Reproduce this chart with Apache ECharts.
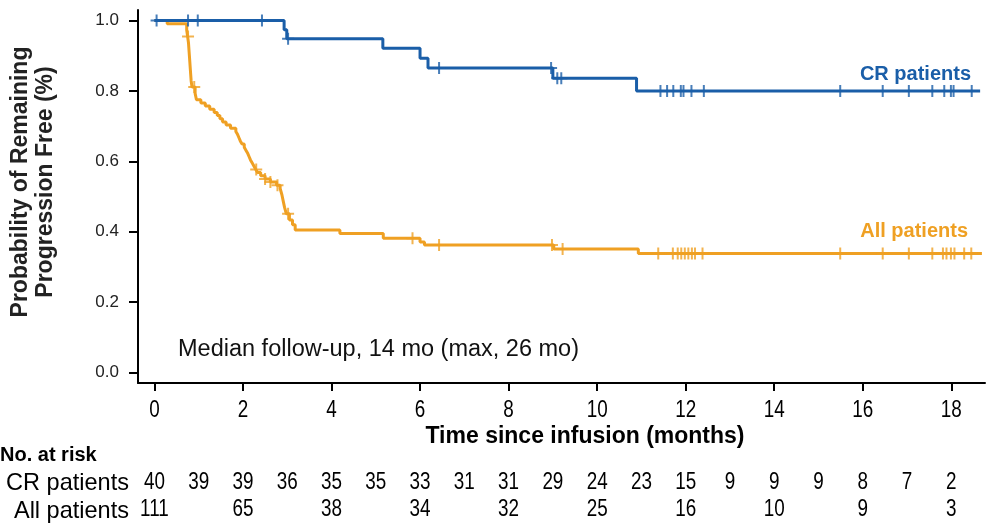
<!DOCTYPE html>
<html>
<head>
<meta charset="utf-8">
<script src="https://cdn.jsdelivr.net/npm/echarts@6/dist/echarts.min.js"></script>
<style>html,body{margin:0;padding:0;background:#fff;}#c{width:988px;height:523px;}</style>
</head>
<body>
<div id="c"></div>
<script>
// ---- Data ----
const xTicks = [0, 2, 4, 6, 8, 10, 12, 14, 16, 18];
const yTicks = [0, 0.2, 0.4, 0.6, 0.8, 1.0];

// CR patients: step times and survival level after each step
const crTimes  = [0, 2.93, 2.99, 5.16, 6.0, 6.18, 9.0, 10.89];
const crLevels = [1.0, 0.974, 0.948, 0.921, 0.893, 0.865, 0.836, 0.80];
const crEnd = 18.65;
const crCensor = [0.05, 0.76, 0.98, 2.43, 3.02, 6.43, 8.96, 9.1, 9.19, 11.43, 11.58, 11.72, 11.89, 11.95, 12.13, 12.41, 15.49, 16.45, 17.04, 17.57, 17.84, 17.99, 18.05, 18.46];

// All patients
const allTimes  = [0, 0.29, 0.73, 0.75, 0.77, 0.78, 0.79, 0.80, 0.81, 0.82, 0.83, 0.85, 0.92, 0.95,
  1.05, 1.15, 1.25, 1.35, 1.42, 1.48, 1.54, 1.62, 1.72, 1.84, 1.88, 1.91, 1.94, 1.98, 2.03, 2.07, 2.11, 2.14, 2.17, 2.21, 2.25, 2.29, 2.33,
  2.40, 2.50, 2.62, 2.76, 2.84, 2.88, 2.91, 2.94, 2.98, 3.05, 3.12, 3.18,
  4.19, 5.17, 6.0, 6.1, 9.02, 10.93];
const allLevels = [1.0, 0.991, 0.973, 0.955, 0.937, 0.919, 0.901, 0.883, 0.865, 0.847, 0.829, 0.811, 0.793, 0.775,
  0.766, 0.757, 0.748, 0.739, 0.730, 0.721, 0.712, 0.703, 0.694, 0.685, 0.676, 0.667, 0.658, 0.649, 0.640, 0.631, 0.622, 0.613, 0.604, 0.595, 0.586, 0.577, 0.568,
  0.559, 0.550, 0.541, 0.532, 0.523, 0.505, 0.487, 0.469, 0.451, 0.433, 0.420, 0.405,
  0.395, 0.381, 0.371, 0.362, 0.351, 0.338];
const allEnd = 18.69;
const allCensor = [0.76, 0.9, 2.3, 2.5, 2.62, 2.78, 3.02, 5.83, 6.43, 8.98, 9.22, 11.38, 11.71, 11.82, 11.9, 11.98, 12.06, 12.14, 12.21, 12.38, 15.49, 16.45, 17.04, 17.57, 17.81, 17.89, 17.99, 18.07, 18.29, 18.45];

// Numbers at risk
const riskRows = ['All patients', 'CR patients'];
const crRiskMonths = [0,1,2,3,4,5,6,7,8,9,10,11,12,13,14,15,16,17,18];
const crRisk = [40,39,39,36,35,35,33,31,31,29,24,23,15,9,9,9,8,7,2];
const allRiskMonths = [0,2,4,6,8,10,12,14,16,18];
const allRisk = [111,65,38,34,32,25,16,10,9,3];

// ---- helpers ----
function stepData(times, levels, end) {
  const d = times.map((t, i) => [t, levels[i]]);
  d.push([end, levels[levels.length - 1]]);
  return d;
}
function levelAt(times, levels, t) {
  let v = levels[0];
  for (let i = 0; i < times.length; i++) { if (times[i] <= t) v = levels[i]; }
  return v;
}
const BLUE = '#1a5ea8';
const ORANGE = '#efa023';
const PLUS = 'path://M5,0H7V5H12V7H7V12H5V7H0V5H5Z';
const SANS = "'Liberation Sans',Arial,sans-serif";
const X_MIN = -0.37, X_MAX = 18.76, Y_MIN = -0.03, Y_MAX = 1.03;

// narrow (condensed) text drawn through a custom series positioned by the axes
function narrowText(text, p, size, dy) {
  return {
    type: 'text', x: p[0], y: p[1] + dy, scaleX: 0.82,
    style: {text: String(text), font: size + 'px ' + SANS, fill: '#000', textAlign: 'center', textVerticalAlign: 'middle'}
  };
}

const chart = echarts.init(document.getElementById('c'), null, {renderer: 'canvas'});
chart.setOption({
  animation: false,
  backgroundColor: '#fff',
  grid: [
    {left: 138, right: 3, top: 10, bottom: 140},
    {left: 138, right: 3, top: 469, height: 56}
  ],
  xAxis: [
    {
      type: 'value', gridIndex: 0, min: X_MIN, max: X_MAX,
      splitLine: {show: false},
      axisLine: {show: true, onZero: false, lineStyle: {color: '#000', width: 2}},
      axisTick: {show: true, customValues: xTicks, length: 8, lineStyle: {color: '#000', width: 2}},
      axisLabel: {show: false}
    },
    {type: 'value', gridIndex: 1, min: X_MIN, max: X_MAX, show: false}
  ],
  yAxis: [
    {
      type: 'value', gridIndex: 0, min: Y_MIN, max: Y_MAX,
      splitLine: {show: false},
      axisLine: {show: true, onZero: false, lineStyle: {color: '#000', width: 2}},
      axisTick: {show: true, customValues: yTicks, length: 9, lineStyle: {color: '#000', width: 2}},
      axisLabel: {customValues: yTicks, margin: 19, fontSize: 17, color: '#222', fontFamily: SANS,
        formatter: v => v.toFixed(1)}
    },
    {type: 'category', gridIndex: 1, data: riskRows, show: false}
  ],
  series: [
    {
      type: 'line', name: 'All patients', step: 'end', showSymbol: false, symbol: 'none',
      data: stepData(allTimes, allLevels, allEnd),
      lineStyle: {color: ORANGE, width: 3}, z: 2
    },
    {
      type: 'scatter', symbol: PLUS, symbolSize: 12,
      data: allCensor.map(t => [t, levelAt(allTimes, allLevels, t)]),
      itemStyle: {color: ORANGE}, z: 3
    },
    {
      type: 'line', name: 'CR patients', step: 'end', showSymbol: false, symbol: 'none',
      data: stepData(crTimes, crLevels, crEnd),
      lineStyle: {color: BLUE, width: 3}, z: 4
    },
    {
      type: 'scatter', symbol: PLUS, symbolSize: 12,
      data: crCensor.map(t => [t, levelAt(crTimes, crLevels, t)]),
      itemStyle: {color: BLUE}, z: 5
    },
    { // x tick labels
      type: 'custom', xAxisIndex: 0, yAxisIndex: 0, clip: false, silent: true,
      data: xTicks.map(t => [t, Y_MIN]),
      renderItem: (params, api) => narrowText(api.value(0), api.coord([api.value(0), api.value(1)]), 23, 28)
    },
    { // numbers at risk, CR
      type: 'custom', xAxisIndex: 1, yAxisIndex: 1, clip: false, silent: true,
      data: crRiskMonths.map((m, i) => [m, 1, crRisk[i]]),
      renderItem: (params, api) => narrowText(api.value(2), api.coord([api.value(0), api.value(1)]), 23, 0)
    },
    { // numbers at risk, All
      type: 'custom', xAxisIndex: 1, yAxisIndex: 1, clip: false, silent: true,
      data: allRiskMonths.map((m, i) => [m, 0, allRisk[i]]),
      renderItem: (params, api) => narrowText(api.value(2), api.coord([api.value(0), api.value(1)]), 23, 0)
    }
  ],
  graphic: [
    {type: 'text', x: 971, y: 74, style: {text: 'CR patients', fill: BLUE, font: "bold 20px " + SANS, textAlign: 'right', textVerticalAlign: 'middle'}},
    {type: 'text', x: 968, y: 231, style: {text: 'All patients', fill: ORANGE, font: "bold 20px " + SANS, textAlign: 'right', textVerticalAlign: 'middle'}},
    {type: 'text', x: 178, y: 350, style: {text: 'Median follow-up, 14 mo (max, 26 mo)', fill: '#111', font: "23.5px " + SANS, textAlign: 'left', textVerticalAlign: 'middle'}},
    {type: 'text', x: 585, y: 437, style: {text: 'Time since infusion (months)', fill: '#000', font: "bold 23px " + SANS, textAlign: 'center', textVerticalAlign: 'middle'}},
    {type: 'text', x: 0, y: 455, style: {text: 'No. at risk', fill: '#000', font: "bold 20px " + SANS, textAlign: 'left', textVerticalAlign: 'middle'}},
    {type: 'text', x: 129, y: 483, scaleX: 0.98, style: {text: 'CR patients', fill: '#000', font: "24px " + SANS, textAlign: 'right', textVerticalAlign: 'middle'}},
    {type: 'text', x: 129, y: 511, scaleX: 0.98, style: {text: 'All patients', fill: '#000', font: "24px " + SANS, textAlign: 'right', textVerticalAlign: 'middle'}},
    {type: 'text', x: 33, y: 182, rotation: Math.PI / 2, style: {text: 'Probability of Remaining\nProgression Free (%)', fill: '#222', font: "bold 23px " + SANS, textAlign: 'center', textVerticalAlign: 'middle', lineHeight: 25}}
  ]
});
</script>
</body>
</html>
